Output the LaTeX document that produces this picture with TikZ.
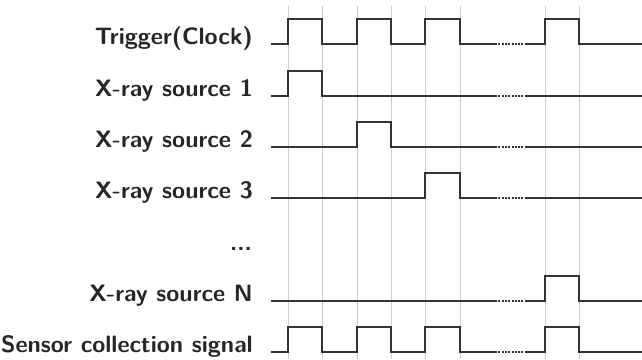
\documentclass[tikz,border=0pt]{standalone}
\usepackage{fontspec}
\begin{document}
\begin{tikzpicture}[x=1pt,y=-1pt,
  lab/.style={anchor=base east, inner sep=0pt, font=\sffamily\bfseries\fontsize{23.7}{28}\selectfont, text=black!85},
  gridline/.style={draw=gray!40, line width=0.9pt},
  sig/.style={draw=black!80, line width=1.4pt, line join=miter},
  dotseg/.style={sig, dash pattern=on 2pt off 1.3pt}]
\useasboundingbox (0,0) rectangle (642,359);
% grid lines
\foreach \x in {288,322,357,391,425,460,545,579}
  \draw[gridline] (\x,6) -- (\x,359);
% labels
\node[lab] (trig) at (253,44) {Trigger(Clock)};
\node[lab] (xr1) at (253,96) {X-ray source 1};
\node[lab] (xr2) at (253,147) {X-ray source 2};
\node[lab] (xr3) at (253,198) {X-ray source 3};
\node[lab] (dots) at (252,250) {...};
\node[lab] (xrn) at (253,301) {X-ray source N};
\node[lab] (sens) at (253,352) {Sensor collection signal};
% Trigger
\draw[sig] (271,44) -- (288,44) -- (288,19) -- (322,19) -- (322,44) -- (357,44) -- (357,19) -- (391,19) -- (391,44) -- (425,44) -- (425,19) -- (460,19) -- (460,44) -- (495,44);
\draw[dotseg] (495,44) -- (527,44);
\draw[sig] (527,44) -- (545,44) -- (545,19) -- (579,19) -- (579,44) -- (642,44);
% X-ray 1
\draw[sig] (271,96) -- (288,96) -- (288,71) -- (322,71) -- (322,96) -- (495,96);
\draw[dotseg] (495,96) -- (527,96);
\draw[sig] (527,96) -- (642,96);
% X-ray 2
\draw[sig] (271,147) -- (357,147) -- (357,122) -- (391,122) -- (391,147) -- (495,147);
\draw[dotseg] (495,147) -- (527,147);
\draw[sig] (527,147) -- (642,147);
% X-ray 3
\draw[sig] (271,198) -- (425,198) -- (425,173) -- (460,173) -- (460,198) -- (495,198);
\draw[dotseg] (495,198) -- (527,198);
\draw[sig] (527,198) -- (642,198);
% X-ray N
\draw[sig] (271,301) -- (495,301);
\draw[dotseg] (495,301) -- (527,301);
\draw[sig] (527,301) -- (545,301) -- (545,276) -- (579,276) -- (579,301) -- (642,301);
% Sensor
\draw[sig] (271,352) -- (288,352) -- (288,327) -- (322,327) -- (322,352) -- (357,352) -- (357,327) -- (391,327) -- (391,352) -- (425,352) -- (425,327) -- (460,327) -- (460,352) -- (495,352);
\draw[dotseg] (495,352) -- (527,352);
\draw[sig] (527,352) -- (545,352) -- (545,327) -- (579,327) -- (579,352) -- (642,352);
\end{tikzpicture}
\end{document}
